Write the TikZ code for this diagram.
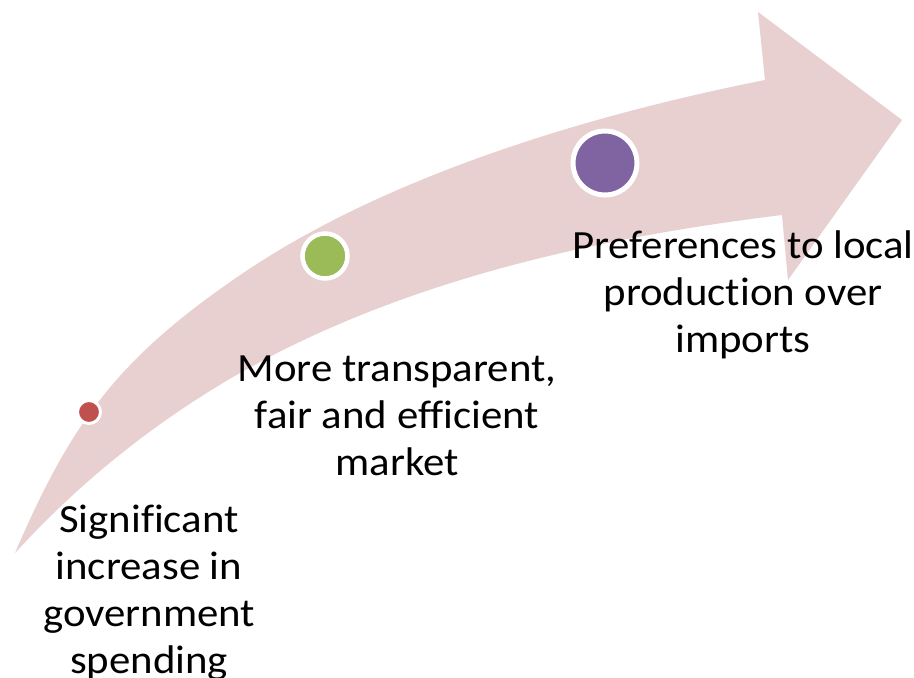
\documentclass[tikz,border=0pt]{standalone}
\usepackage{fontspec}
\setmainfont{Carlito}[FakeStretch=1.07, Ligatures={NoCommon}]
\definecolor{arrowfill}{HTML}{E8CFD0}
\definecolor{dotred}{HTML}{C0504D}
\definecolor{dotgreen}{HTML}{9BBB59}
\definecolor{dotpurple}{HTML}{8064A2}
\tikzset{
  lbl/.style={align=center, anchor=base, inner sep=0pt, font=\fontsize{40}{47}\selectfont, text=black},
  dot/.style={circle, draw=white, inner sep=0pt},
}
\begin{document}
\begin{tikzpicture}[x=1pt,y=-1pt]
\useasboundingbox (0,0) rectangle (914,678);
\fill[white] (0,0) rectangle (914,678);
% curved arrow
\coordinate (tail) at (15,553);
\coordinate (hu) at (765,80);
\coordinate (ht) at (758,12);
\coordinate (tip) at (902,120);
\coordinate (hb) at (788,280);
\coordinate (hl) at (782,215);
\fill[arrowfill] (tail) .. controls (70,425) and (116,361) .. (233,280)
  .. controls (380,177) and (589,115) .. (hu)
  -- (ht) -- (tip) -- (hb) -- (hl)
  .. controls (593,238) and (397,282) .. (233,377)
  .. controls (151,425) and (79,483) .. (tail) -- cycle;
% dots
\node[dot, fill=dotred, line width=3pt, minimum size=23pt] (d1) at (89,412) {};
\node[dot, fill=dotgreen, line width=4.5pt, minimum size=45pt] (d2) at (325,256) {};
\node[dot, fill=dotpurple, line width=5pt, minimum size=64pt] (d3) at (605,163) {};
% labels (anchor = baseline of last line)
\node[lbl] (t1) at (149,673) {Significant\\increase in\\government\\spending};
\node[lbl] (t2) at (397,475) {More transparent,\\fair and efficient\\market};
\node[lbl] (t3) at (743,352) {Preferences to local\\production over\\imports};
\end{tikzpicture}
\end{document}
